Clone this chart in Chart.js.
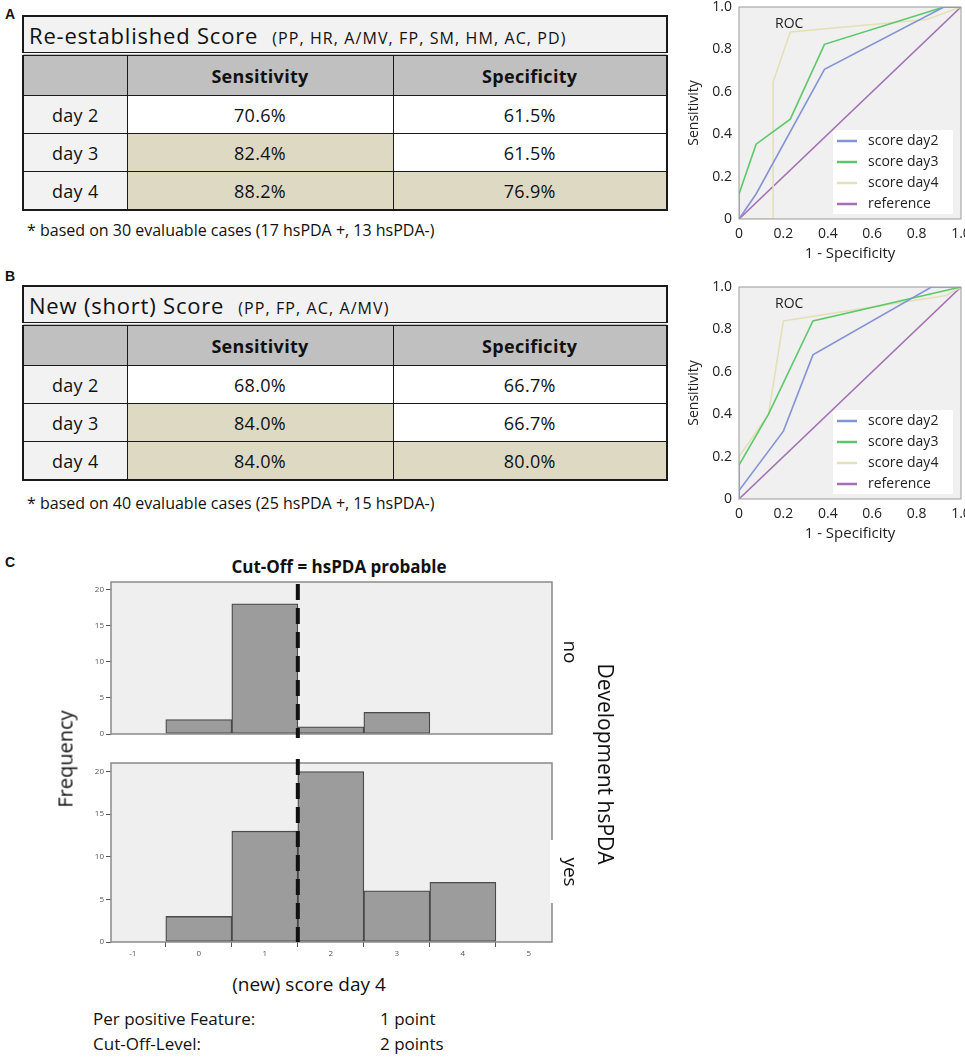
<!DOCTYPE html>
<html lang="en">
<head>
<meta charset="UTF-8">
<title>hsPDA score: sensitivity, specificity, ROC and cut-off</title>
<script src="https://cdn.jsdelivr.net/npm/chart.js"></script>
<style>
  body { margin: 0; background: #fff; }
  #page { position: relative; width: 965px; height: 1057px; overflow: hidden; font-family: "Open Sans", sans-serif; color: #111; }
  .box { position: absolute; }
  .tag { position: absolute; font: bold 14px "Liberation Sans", Arial, sans-serif; }
  .txt { position: absolute; white-space: nowrap; transform: translateY(-50%); }
  .mid { position: absolute; white-space: nowrap; transform: translate(-50%, -50%); }
  .rot90 { transform: translate(-50%, -50%) rotate(90deg); }
  .rotm90 { transform: translate(-50%, -50%) rotate(-90deg); }

  table.score { position: absolute; left: 22px; width: 646px; border-collapse: collapse; table-layout: fixed;
                border: 2px solid #1a1a1a; font-size: 18px; }
  table.score td { border: 1.5px solid #1a1a1a; text-align: center; padding: 0; background: #fff; letter-spacing: 0.3px; }
  table.score tr.ttl td { background: #f2f2f2; text-align: left; height: 35px; padding-left: 5px; border-bottom: 4px double #1a1a1a; }
  table.score tr.hdr td { background: #c0c0c0; font-weight: bold; height: 39px; }
  table.score tr.row td { height: 37px; }
  table.score td.day { background: #f2f2f2; }
  table.score td.hl { background: #ddd9c3; }
  .big { font-size: 22px; letter-spacing: 0.8px; }
  .sub { font-size: 16px; margin-left: 14px; letter-spacing: 1.1px; }
  .note { position: absolute; left: 27px; font-size: 16px; white-space: nowrap; transform: translateY(-50%); }
</style>
</head>
<body>
<div id="page">

  <div class="tag" style="left:5px;top:6px">A</div>
  <table id="tableA" class="score" style="top:15px"></table>
  <div class="note" id="noteA" style="top:230px"></div>
  <div class="box" style="left:684px;top:0;width:281px;height:265px"><canvas id="rocA"></canvas></div>

  <div class="tag" style="left:5px;top:268px">B</div>
  <table id="tableB" class="score" style="top:285px"></table>
  <div class="note" id="noteB" style="top:503px"></div>
  <div class="box" style="left:684px;top:280px;width:281px;height:265px"><canvas id="rocB"></canvas></div>

  <div class="tag" style="left:5px;top:554px">C</div>
  <div class="mid" style="left:339px;top:566px;font-size:17px;font-weight:bold">Cut-Off = hsPDA probable</div>
  <div class="box" style="left:71px;top:576px;width:483px;height:190px"><canvas id="histNo"></canvas></div>
  <div class="box" style="left:71px;top:757px;width:483px;height:210px"><canvas id="histYes"></canvas></div>
  <div class="box" style="left:550px;top:840px;width:5px;height:63px;background:#fff"></div>
  <div class="mid rotm90" style="left:65px;top:759px;font-size:20px">Frequency</div>
  <div class="mid rot90" style="left:571px;top:652px;font-size:19px">no</div>
  <div class="mid rot90" style="left:571px;top:872px;font-size:19px">yes</div>
  <div class="mid rot90" style="left:606px;top:764px;font-size:21px">Development hsPDA</div>
  <div class="mid" style="left:309px;top:984px;font-size:19px">(new) score day 4</div>
  <div class="txt" style="left:93px;top:1018px;font-size:17px">Per positive Feature:</div>
  <div class="txt" style="left:380px;top:1018px;font-size:17px">1 point</div>
  <div class="txt" style="left:93px;top:1043px;font-size:17px">Cut-Off-Level:</div>
  <div class="txt" style="left:380px;top:1043px;font-size:17px">2 points</div>
</div>

<script>
// ---- tables (percent) ----
const days = ['day 2', 'day 3', 'day 4'];
const sensA = [70.6, 82.4, 88.2];
const specA = [61.5, 61.5, 76.9];
const sensB = [68.0, 84.0, 84.0];
const specB = [66.7, 66.7, 80.0];
const highlightFrom = 75;   // cells at or above this are shaded

// ---- ROC curves: x = 1 - specificity, y = sensitivity ----
const rocA2x = [0, 0.077, 0.385, 0.923, 1];
const rocA2y = [0, 0.118, 0.706, 1, 1];
const rocA3x = [0, 0, 0.077, 0.231, 0.385, 0.923, 1];
const rocA3y = [0, 0.118, 0.353, 0.471, 0.824, 1, 1];
const rocA4x = [0, 0.154, 0.154, 0.231, 0.846, 1];
const rocA4y = [0, 0, 0.647, 0.882, 0.941, 1];

const rocB2x = [0, 0, 0.2, 0.333, 0.867, 1];
const rocB2y = [0, 0.04, 0.32, 0.68, 1, 1];
const rocB3x = [0, 0, 0.133, 0.333, 1];
const rocB3y = [0, 0.16, 0.40, 0.84, 1];
const rocB4x = [0, 0, 0.133, 0.2, 0.933, 1];
const rocB4y = [0, 0.2, 0.4, 0.84, 0.96, 1];

const refX = [0, 1];
const refY = [0, 1];
const rocLabels = ['score day2', 'score day3', 'score day4', 'reference'];
const rocColors = ['#8394d6', '#5cc86a', '#e4e0b6', '#a56fb3'];

// ---- histogram: new score day 4 ----
const scoreBins = [0, 1, 2, 3, 4];
const countNo = [2, 18, 1, 3, 0];
const countYes = [3, 13, 20, 6, 7];
const cutOff = 1.5;
const histXTicks = [-1, 0, 1, 2, 3, 4, 5];
const histYTicks = [0, 5, 10, 15, 20];

function cell(v) {
  const cls = v >= highlightFrom ? ' class="hl"' : '';
  return '<td' + cls + '>' + v.toFixed(1) + '%</td>';
}

function buildTable(id, title, items, sens, spec) {
  let html = '<colgroup><col style="width:104px"><col style="width:266px"><col></colgroup>';
  html += '<tr class="ttl"><td colspan="3"><span class="big">' + title + '</span><span class="sub">' + items + '</span></td></tr>';
  html += '<tr class="hdr"><td></td><td>Sensitivity</td><td>Specificity</td></tr>';
  days.forEach(function(d, i) {
    html += '<tr class="row"><td class="day">' + d + '</td>' + cell(sens[i]) + cell(spec[i]) + '</tr>';
  });
  document.getElementById(id).innerHTML = html;
}

buildTable('tableA', 'Re-established Score', '(PP, HR, A/MV, FP, SM, HM, AC, PD)', sensA, specA);
buildTable('tableB', 'New (short) Score', '(PP, FP, AC, A/MV)', sensB, specB);
document.getElementById('noteA').textContent = '* based on 30 evaluable cases (17 hsPDA +, 13 hsPDA-)';
document.getElementById('noteB').textContent = '* based on 40 evaluable cases (25 hsPDA +, 15 hsPDA-)';

function zip(xs, ys) {
  return xs.map(function(x, i) { return { x: x, y: ys[i] }; });
}

// grey plot background with a frame
const panelBg = {
  id: 'panelBg',
  beforeDatasetsDraw(chart, args, opts) {
    const a = chart.chartArea, ctx = chart.ctx;
    ctx.save();
    ctx.fillStyle = opts.fill;
    ctx.fillRect(a.left, a.top, a.right - a.left, a.bottom - a.top);
    ctx.restore();
  },
  afterDraw(chart, args, opts) {
    const a = chart.chartArea, ctx = chart.ctx;
    ctx.save();
    ctx.strokeStyle = opts.stroke;
    ctx.lineWidth = opts.width;
    ctx.strokeRect(a.left, a.top, a.right - a.left, a.bottom - a.top);
    ctx.restore();
  }
};

// "ROC" caption and legend box inside the plot
const rocOverlay = {
  id: 'rocOverlay',
  afterDatasetsDraw(chart) {
    const a = chart.chartArea, ctx = chart.ctx;
    ctx.save();
    ctx.font = '14px "Open Sans"';
    ctx.textBaseline = 'middle';
    ctx.fillStyle = '#222';
    ctx.fillText('ROC', a.left + 36, a.top + 17);
    const bx = a.left + 94, by = a.top + 123, bw = 120, bh = 84;
    ctx.fillStyle = '#fff';
    ctx.fillRect(bx, by, bw, bh);
    chart.data.datasets.forEach(function(ds, i) {
      const y = by + 11 + i * 21;
      ctx.strokeStyle = ds.borderColor;
      ctx.lineWidth = 2.5;
      ctx.beginPath();
      ctx.moveTo(bx + 4, y);
      ctx.lineTo(bx + 24, y);
      ctx.stroke();
      ctx.fillStyle = '#222';
      ctx.fillText(ds.label, bx + 35, y);
    });
    ctx.restore();
  }
};

function rocTick(v) {
  return v === 0 ? '0' : v.toFixed(1);
}

function makeRoc(id, series) {
  const datasets = series.map(function(s, i) {
    return {
      label: rocLabels[i],
      data: zip(s[0], s[1]),
      borderColor: rocColors[i],
      borderWidth: 1.6,
      pointRadius: 0,
      tension: 0,
      fill: false
    };
  });
  const tickFont = { family: 'Open Sans', size: 14 };
  new Chart(document.getElementById(id), {
    type: 'line',
    data: { datasets: datasets },
    options: {
      animation: false,
      responsive: true,
      maintainAspectRatio: false,
      layout: { padding: { top: 7, right: 4, left: 0, bottom: 0 } },
      plugins: {
        legend: { display: false },
        tooltip: { enabled: false },
        panelBg: { fill: '#f0f0f0', stroke: '#9a9a9a', width: 1 }
      },
      scales: {
        x: {
          type: 'linear', min: 0, max: 1,
          ticks: { stepSize: 0.2, callback: rocTick, font: tickFont, color: '#222', padding: 3, maxRotation: 0 },
          grid: { display: false, tickLength: 4 },
          border: { display: false },
          title: { display: true, text: '1 - Specificity', font: { family: 'Open Sans', size: 15 }, color: '#222', padding: { top: 0, bottom: 2 } },
          afterFit(s) { s.height = 46; s.paddingLeft = 0; s.paddingRight = 0; }
        },
        y: {
          type: 'linear', min: 0, max: 1,
          ticks: { stepSize: 0.2, callback: rocTick, font: tickFont, color: '#222', padding: 3 },
          grid: { display: false, tickLength: 4 },
          border: { display: false },
          title: { display: true, text: 'Sensitivity', font: { family: 'Open Sans', size: 14 }, color: '#222', padding: { top: 2, bottom: 0 } },
          afterFit(s) { s.width = 55; s.paddingTop = 0; s.paddingBottom = 0; }
        }
      }
    },
    plugins: [panelBg, rocOverlay]
  });
}

makeRoc('rocA', [[rocA2x, rocA2y], [rocA3x, rocA3y], [rocA4x, rocA4y], [refX, refY]]);
makeRoc('rocB', [[rocB2x, rocB2y], [rocB3x, rocB3y], [rocB4x, rocB4y], [refX, refY]]);

// dashed cut-off line
const cutLine = {
  id: 'cutLine',
  afterDraw(chart, args, opts) {
    const a = chart.chartArea, ctx = chart.ctx;
    const x = chart.scales.x.getPixelForValue(cutOff);
    ctx.save();
    ctx.strokeStyle = '#111';
    ctx.lineWidth = 4;
    ctx.setLineDash([16, 8]);
    ctx.beginPath();
    ctx.moveTo(x, a.top + opts.top);
    ctx.lineTo(x, a.bottom + opts.bottom);
    ctx.stroke();
    ctx.restore();
  }
};

function fixedTicks(values) {
  return function(s) { s.ticks = values.map(function(v) { return { value: v }; }); };
}

function makeHist(id, counts, showX) {
  const small = { family: 'Open Sans', size: 8 };
  new Chart(document.getElementById(id), {
    type: 'bar',
    data: {
      datasets: [{
        data: zip(scoreBins, counts),
        backgroundColor: '#9c9c9c',
        borderColor: '#4a4a4a',
        borderWidth: 1.3,
        borderSkipped: false,
        barPercentage: 1,
        categoryPercentage: 1
      }]
    },
    options: {
      animation: false,
      responsive: true,
      maintainAspectRatio: false,
      layout: { padding: { top: 6, right: 2, left: 0, bottom: showX ? 0 : 7 } },
      plugins: {
        legend: { display: false },
        tooltip: { enabled: false },
        panelBg: { fill: '#efefef', stroke: '#8a8a8a', width: 1.5 },
        cutLine: { top: showX ? -4 : 2, bottom: showX ? 0 : 4 }
      },
      scales: {
        x: {
          type: 'linear', min: -1.33, max: 5.35, offset: false, display: showX,
          ticks: { font: small, color: '#555', padding: 2, maxRotation: 0 },
          afterBuildTicks: fixedTicks(histXTicks),
          grid: { display: true, drawOnChartArea: false, tickLength: 5, color: '#555' },
          border: { display: false },
          afterFit(s) { s.height = 25; s.paddingLeft = 0; s.paddingRight = 0; }
        },
        y: {
          min: 0, max: 21,
          ticks: { font: small, color: '#555', padding: 2 },
          afterBuildTicks: fixedTicks(histYTicks),
          grid: { display: true, drawOnChartArea: false, tickLength: 5, color: '#555' },
          border: { display: false },
          afterFit(s) { s.width = 40; s.paddingTop = 0; s.paddingBottom = 0; }
        }
      }
    },
    plugins: [panelBg, cutLine]
  });
}

makeHist('histNo', countNo, false);
makeHist('histYes', countYes, true);
</script>
</body>
</html>
